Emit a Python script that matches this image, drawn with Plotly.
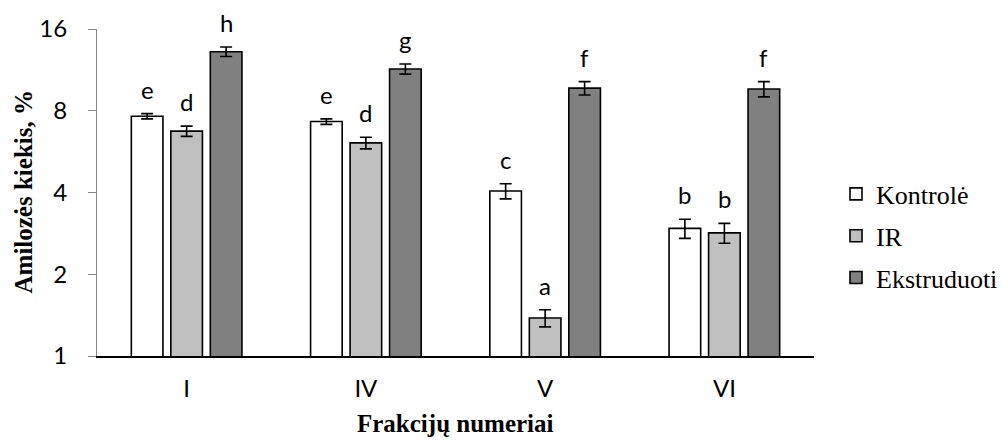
import numpy as np
import plotly.graph_objects as go

# Amylose content per fraction and treatment
categories = ["I", "IV", "V", "VI"]
series_names = ["Kontrolė", "IR", "Ekstruduoti"]
kontrole = [7.64, 7.30, 4.05, 2.95]
ir = [6.73, 6.09, 1.38, 2.84]
ekstruduoti = [13.2, 11.4, 9.69, 9.62]
kontrole_err = [0.17, 0.17, 0.26, 0.24]
ir_err = [0.29, 0.30, 0.10, 0.24]
ekstruduoti_err = [0.53, 0.49, 0.55, 0.62]
kontrole_letters = ["e", "e", "c", "b"]
ir_letters = ["d", "d", "a", "b"]
ekstruduoti_letters = ["h", "g", "f", "f"]
y_ticks = [1, 2, 4, 8, 16]

values = [kontrole, ir, ekstruduoti]
errors = [kontrole_err, ir_err, ekstruduoti_err]
letters = [kontrole_letters, ir_letters, ekstruduoti_letters]
fills = ["#FFFFFF", "#C0C0C0", "#808080"]

W, H = 1002, 442
margin = dict(l=97, r=188, t=29, b=86, autoexpand=False)
bargap = 0.339
bargroupgap = 0.2
plot_w = W - margin["l"] - margin["r"]
plot_h = H - margin["t"] - margin["b"]
slot_px = plot_w / len(categories) * (1 - bargap) / len(series_names)

sans = "Lato, 'Open Sans', sans-serif"
serif = "'Liberation Serif', 'Times New Roman', serif"

fig = go.Figure()
for name, v, e, c in zip(series_names, values, errors, fills):
    fig.add_trace(go.Bar(
        name=name, x=categories, y=v, legendgroup=name,
        marker=dict(color=c, line=dict(color="#000000", width=1.6)),
        error_y=dict(type="data", array=e, visible=True,
                     color="#000000", thickness=1.6, width=6),
    ))

# significance letters above each error bar
for k, (v, e, lab) in enumerate(zip(values, errors, letters)):
    for cat, vi, ei, t in zip(categories, v, e, lab):
        fig.add_annotation(
            x=cat, y=np.log10(vi + ei), text=t, showarrow=False,
            xshift=(k - 1) * slot_px, yshift=8, yanchor="bottom",
            font=dict(family=sans, size=24, color="#000000"),
        )

fig.add_annotation(
    xref="paper", yref="paper", x=-74 / plot_w, y=0.5,
    text="<b>Amilozės kiekis, %</b>", textangle=-90, showarrow=False,
    xanchor="center", yanchor="middle",
    font=dict(family=serif, size=25, color="#000000"),
)
fig.add_annotation(
    xref="paper", yref="paper", x=0.5, y=-67 / plot_h,
    text="<b>Frakcijų numeriai</b>", showarrow=False,
    xanchor="center", yanchor="middle",
    font=dict(family=serif, size=25, color="#000000"),
)

fig.update_layout(
    width=W, height=H, margin=margin,
    paper_bgcolor="#FFFFFF", plot_bgcolor="#FFFFFF",
    barmode="group", bargap=bargap, bargroupgap=bargroupgap,
    showlegend=True,
    legend=dict(
        x=(836 - margin["l"]) / plot_w, y=(356 - 236) / plot_h,
        xanchor="left", yanchor="middle",
        traceorder="grouped", tracegroupgap=5,
        font=dict(family=serif, size=26, color="#000000"),
        bgcolor="rgba(0,0,0,0)", borderwidth=0,
    ),
    xaxis=dict(
        showline=True, linecolor="#000000", linewidth=2,
        ticks="", showgrid=False, ticklabelstandoff=10,
        tickfont=dict(family=sans, size=24, color="#000000"),
    ),
    yaxis=dict(
        type="log", range=[0, np.log10(16)],
        tickvals=y_ticks, ticktext=[str(t) for t in y_ticks],
        showline=True, linecolor="#868686", linewidth=1,
        ticks="outside", ticklen=8, tickcolor="#868686",
        showgrid=False, zeroline=False, ticklabelstandoff=16,
        tickfont=dict(family=sans, size=24, color="#000000"),
    ),
)

fig.write_html("out.html")
